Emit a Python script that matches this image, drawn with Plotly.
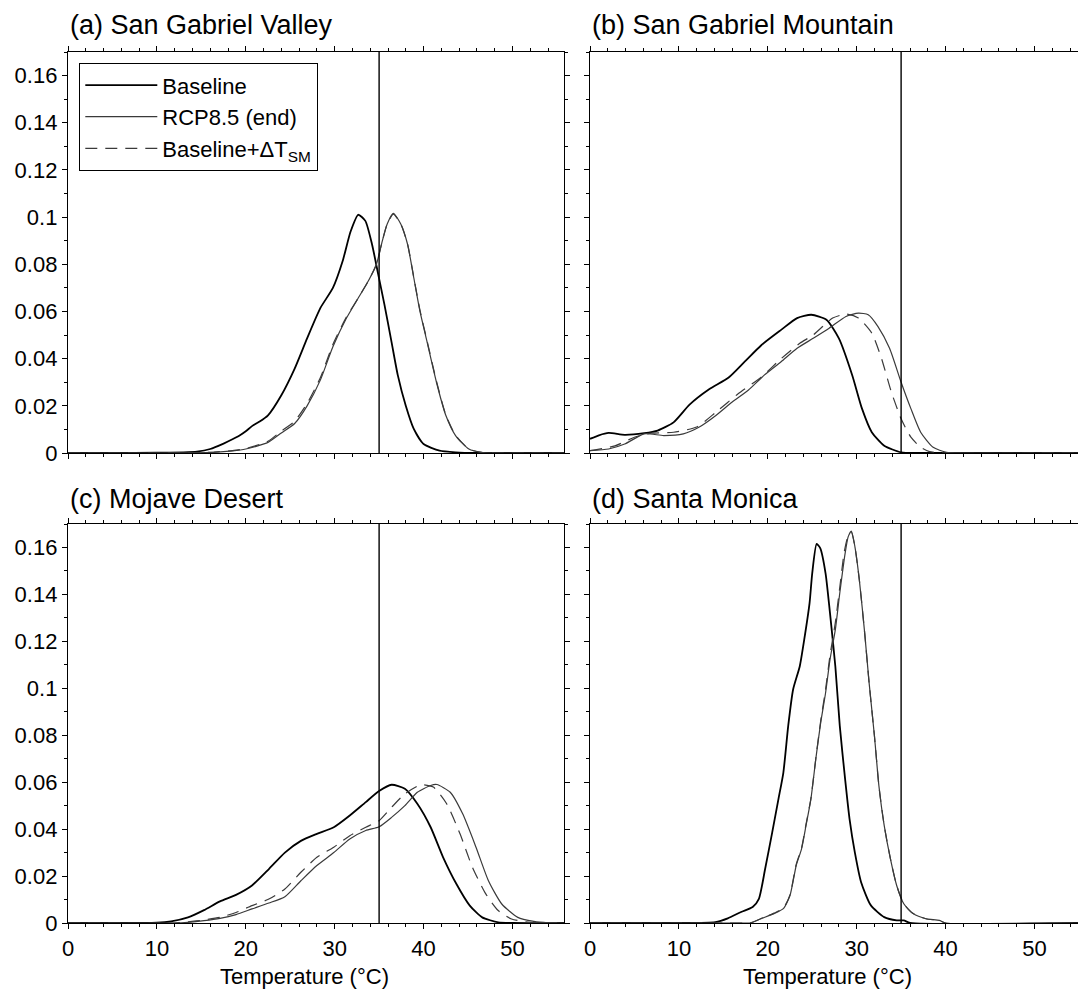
import plotly.graph_objects as go
from plotly.subplots import make_subplots

# ---------------- data ----------------
# (a) San Gabriel Valley
a_base_T = [0, 5, 10, 13, 14.5, 16, 17.5, 18.5, 19.3, 20, 20.7, 21.5, 22.5, 24, 25.5, 26.9, 28.4, 29.8, 30.9, 31.8, 32.65, 33.45, 34.2, 34.9, 35.6, 36.4, 37.1, 38.0, 38.9, 40, 41.8, 43.6, 46, 55.8]
a_base_v = [0, 0, 0.0001, 0.0003, 0.0006, 0.0017, 0.004, 0.0058, 0.0074, 0.0092, 0.0114, 0.0132, 0.016, 0.0245, 0.0358, 0.0486, 0.0615, 0.070, 0.0814, 0.094, 0.101, 0.0984, 0.0885, 0.0757, 0.0629, 0.047, 0.033, 0.020, 0.0102, 0.0038, 0.001, 0.0003, 0, 0]
a_rcp_T = [0, 10, 14, 16.4, 18.5, 20, 22.5, 24, 25.5, 26.9, 28.4, 29.8, 31.3, 32.7, 33.8, 34.7, 35.3, 35.9, 36.6, 37.45, 38.2, 38.9, 39.6, 40.4, 41.45, 42.5, 43.6, 45.1, 46.5, 48, 55.8]
a_rcp_v = [0, 0, 0.0001, 0.0003, 0.0009, 0.0017, 0.0045, 0.0085, 0.0125, 0.020, 0.031, 0.045, 0.057, 0.066, 0.073, 0.080, 0.089, 0.097, 0.1016, 0.097, 0.0885, 0.0743, 0.060, 0.047, 0.030, 0.016, 0.0074, 0.0017, 0.0003, 0, 0]
a_dsh_T = [0, 10, 14, 16.4, 18.5, 20, 22.5, 24, 25.5, 26.9, 28.4, 29.8, 31.3, 32.7, 33.8, 34.7, 35.3, 35.9, 36.6, 37.45, 38.2, 38.9, 39.6, 40.4, 41.45, 42.5, 43.6, 45.1, 46.5, 48, 55.8]
a_dsh_v = [0, 0, 0.0001, 0.0004, 0.001, 0.0019, 0.005, 0.0093, 0.0135, 0.021, 0.032, 0.046, 0.0575, 0.066, 0.073, 0.080, 0.089, 0.097, 0.1013, 0.097, 0.0885, 0.0745, 0.0605, 0.0475, 0.0305, 0.0162, 0.0075, 0.0017, 0.0003, 0, 0]

# (b) San Gabriel Mountain
b_base_T = [0, 1, 2.1, 3.9, 6.1, 7.6, 9.4, 11.2, 13.4, 15.6, 17.4, 19.3, 21.5, 23.3, 24.9, 26.6, 28, 29.5, 30.6, 31.7, 33.1, 35, 37, 54.9]
b_base_v = [0.006, 0.0075, 0.0085, 0.0077, 0.0084, 0.0095, 0.013, 0.0205, 0.027, 0.032, 0.0387, 0.0458, 0.0522, 0.0572, 0.0586, 0.0565, 0.0486, 0.033, 0.0188, 0.0088, 0.0031, 0.0003, 0, 0]
b_rcp_T = [0, 2.1, 3.9, 6.1, 8.3, 10.5, 12.3, 14.2, 16, 17.8, 19.6, 21.5, 23.3, 25.1, 26.9, 28.8, 30.2, 31.3, 32.4, 33.7, 35, 36.1, 37.2, 38.6, 40.1, 42, 54.9]
b_rcp_v = [0.001, 0.0017, 0.0038, 0.0081, 0.0074, 0.0081, 0.011, 0.016, 0.0216, 0.0266, 0.033, 0.0387, 0.0444, 0.0486, 0.0529, 0.0579, 0.0593, 0.0586, 0.0536, 0.0444, 0.030, 0.0188, 0.0088, 0.0024, 0.0003, 0, 0]
b_dsh_T = [0, 2.8, 5, 6.9, 9.4, 12, 14.2, 16.7, 19.3, 21.5, 23.6, 25.1, 27.3, 28.8, 30.2, 31.7, 32.8, 33.9, 35, 36.1, 37.2, 38.2, 40, 54.9]
b_dsh_v = [0.001, 0.003, 0.0067, 0.0084, 0.0088, 0.011, 0.0174, 0.0252, 0.0323, 0.040, 0.0465, 0.050, 0.0572, 0.0589, 0.0572, 0.0508, 0.040, 0.0259, 0.0145, 0.0067, 0.0024, 0.0006, 0, 0]

# (c) Mojave Desert
c_base_T = [0, 8, 10, 11.6, 13.5, 15.3, 17.1, 18.9, 20.7, 22.6, 24.4, 26.2, 28, 29.9, 31.7, 33.5, 35, 36.4, 37.9, 39.3, 40.8, 42.2, 43.7, 45.2, 46.6, 48.4, 50, 55.8]
c_base_v = [0, 0, 0.0001, 0.0007, 0.0024, 0.0055, 0.0092, 0.012, 0.016, 0.023, 0.030, 0.035, 0.038, 0.0408, 0.0458, 0.0515, 0.0562, 0.0589, 0.0572, 0.0508, 0.0408, 0.028, 0.0166, 0.0074, 0.0024, 0.0003, 0, 0]
c_rcp_T = [0, 12, 13.5, 15.3, 17.1, 18.9, 20.7, 22.6, 24.4, 26.2, 28, 29.9, 31.7, 33.5, 35, 36.4, 37.9, 39.3, 40.8, 41.5, 43, 44.4, 45.9, 47.3, 48.8, 50.6, 52.4, 54, 55.8]
c_rcp_v = [0, 0, 0.0003, 0.001, 0.002, 0.0036, 0.006, 0.0085, 0.0112, 0.018, 0.0245, 0.030, 0.0358, 0.0394, 0.041, 0.045, 0.050, 0.0557, 0.0586, 0.059, 0.0557, 0.0465, 0.0323, 0.018, 0.0081, 0.0024, 0.0007, 0.0001, 0]
c_dsh_T = [0, 12, 13.5, 15.3, 17.1, 18.9, 20.7, 22.6, 24.4, 26.2, 28, 29.9, 31.7, 33.5, 35, 36.4, 37.9, 39.7, 41.1, 42.6, 44.1, 45.5, 47, 48.4, 49.9, 52, 55.8]
c_dsh_v = [0, 0, 0.0005, 0.0013, 0.0024, 0.0045, 0.0074, 0.0102, 0.0145, 0.0216, 0.028, 0.0323, 0.0372, 0.0408, 0.0436, 0.0493, 0.055, 0.0589, 0.0579, 0.0508, 0.038, 0.0237, 0.0124, 0.0053, 0.0017, 0.0003, 0]

# (d) Santa Monica
d_base_T = [0, 10, 14.1, 15.5, 17, 18.3, 19, 19.7, 20.5, 21.2, 21.75, 22.3, 22.85, 23.6, 24.1, 24.7, 25, 25.5, 25.9, 26.5, 27, 27.6, 28.1, 28.7, 29.2, 29.8, 30.5, 31.6, 33.1, 34.5, 35.3, 36, 54.9]
d_base_v = [0, 0, 0.0004, 0.002, 0.0047, 0.0068, 0.0103, 0.023, 0.0386, 0.0528, 0.064, 0.084, 0.0995, 0.1094, 0.1207, 0.1363, 0.149, 0.1615, 0.1597, 0.149, 0.132, 0.1094, 0.084, 0.0613, 0.0443, 0.030, 0.0174, 0.0075, 0.0025, 0.0011, 0.0011, 0.0001, 0]
d_rcp_T = [0, 15, 18.1, 19.2, 20.7, 21.75, 22.5, 23.2, 23.8, 24.3, 24.85, 25.4, 25.95, 26.5, 27, 27.6, 28.1, 28.7, 29.05, 29.4, 29.8, 30.3, 30.9, 31.4, 32, 32.5, 33.1, 33.8, 34.5, 35.3, 36.35, 37.8, 39.3, 40, 54.9]
d_rcp_v = [0, 0, 0.0001, 0.0018, 0.004, 0.0061, 0.0117, 0.0245, 0.0316, 0.0415, 0.0528, 0.0698, 0.0853, 0.098, 0.1122, 0.125, 0.1406, 0.1575, 0.1646, 0.167, 0.1604, 0.1462, 0.1236, 0.1023, 0.0797, 0.0585, 0.0415, 0.0273, 0.016, 0.0082, 0.004, 0.0018, 0.0011, 0, 0]
d_dsh_T = [0, 15, 18.1, 19.2, 20.7, 21.75, 22.5, 23.2, 23.8, 24.3, 24.85, 25.4, 25.95, 26.5, 27, 27.6, 28.1, 28.6, 29.0, 29.4, 29.8, 30.3, 30.9, 31.4, 32, 32.5, 33.1, 33.8, 34.5, 35.3, 36.35, 37.8, 39.3, 40, 54.9]
d_dsh_v = [0, 0, 0.0001, 0.0018, 0.0042, 0.0063, 0.012, 0.025, 0.032, 0.042, 0.053, 0.070, 0.086, 0.0995, 0.114, 0.128, 0.143, 0.158, 0.1645, 0.1665, 0.1604, 0.1462, 0.1236, 0.1023, 0.0797, 0.0585, 0.0415, 0.0273, 0.016, 0.0082, 0.004, 0.0018, 0.0011, 0, 0]

panel_titles = ["(a) San Gabriel Valley", "(b) San Gabriel Mountain", "(c) Mojave Desert", "(d) Santa Monica"]
series_names = ["Baseline", "RCP8.5 (end)", "Baseline+ΔT<sub>SM</sub>"]
threshold_T = 35
y_tickvals = [0, 0.02, 0.04, 0.06, 0.08, 0.1, 0.12, 0.14, 0.16]
y_ticktext = ["0", "0.02", "0.04", "0.06", "0.08", "0.1", "0.12", "0.14", "0.16"]
x_tickvals = [0, 10, 20, 30, 40, 50]
x_title = "Temperature (°C)"

panels = [
    (a_base_T, a_base_v, a_rcp_T, a_rcp_v, a_dsh_T, a_dsh_v),
    (b_base_T, b_base_v, b_rcp_T, b_rcp_v, b_dsh_T, b_dsh_v),
    (c_base_T, c_base_v, c_rcp_T, c_rcp_v, c_dsh_T, c_dsh_v),
    (d_base_T, d_base_v, d_rcp_T, d_rcp_v, d_dsh_T, d_dsh_v),
]

# ---------------- figure ----------------
FONT = "Liberation Sans, Arial, Helvetica, sans-serif"
W, H = 1078, 990
ML, MR, MT, MB = 68, 0, 52, 67
pw = W - ML - MR
ph = H - MT - MB

fig = make_subplots(rows=2, cols=2)

xl_dom = [0, (564 - 68) / pw]
xr_dom = [(590 - 68) / pw, 1.0]
yt_dom = [(923 - 453) / ph, 1.0]
yb_dom = [0, (923 - 524) / ph]

styles = [
    dict(color="#000000", width=1.8),
    dict(color="#3a3a3a", width=1.2),
    dict(color="#3a3a3a", width=1.2, dash="12px,8px"),
]

for i, p in enumerate(panels):
    r, c = i // 2 + 1, i % 2 + 1
    for k in range(3):
        fig.add_trace(
            go.Scatter(
                x=p[2 * k], y=p[2 * k + 1], mode="lines",
                line=dict(shape="spline", smoothing=0.6, **styles[k]),
                name=series_names[k], legendgroup=series_names[k],
                showlegend=(i == 0), hoverinfo="skip",
            ),
            row=r, col=c,
        )

axis_common = dict(
    showline=True, linecolor="black", linewidth=1.3,
    ticks="outside", ticklen=5, tickwidth=1.2, tickcolor="black",
    showgrid=False, zeroline=False,
    tickfont=dict(family=FONT, size=22, color="black"),
)

for i in range(4):
    r, c = i // 2 + 1, i % 2 + 1
    xr = [0, 55.8] if c == 1 else [0, 54.9]
    fig.update_xaxes(
        range=xr, domain=xl_dom if c == 1 else xr_dom,
        tickvals=x_tickvals, showticklabels=(r == 2), mirror="ticks",
        minor=dict(ticks="outside", ticklen=3, dtick=2, tick0=0, tickcolor="black", showgrid=False),
        **axis_common, row=r, col=c,
    )
    fig.update_yaxes(
        range=[0, 0.17], domain=yt_dom if r == 1 else yb_dom,
        tickvals=y_tickvals, ticktext=y_ticktext, showticklabels=(c == 1),
        mirror="ticks" if c == 1 else False,
        minor=dict(ticks="outside", ticklen=3, dtick=0.01, tick0=0, tickcolor="black", showgrid=False),
        **axis_common, row=r, col=c,
    )
    xref = "x" if i == 0 else f"x{i+1}"
    yref = "y" if i == 0 else f"y{i+1}"
    fig.add_shape(type="line", x0=threshold_T, x1=threshold_T, y0=0, y1=1,
                  xref=xref, yref=f"{yref} domain",
                  line=dict(color="black", width=1.4))

# panel titles
title_pos = [(0, (923 - 25) / ph), ((590 - 68) / pw, (923 - 25) / ph),
             (0, (923 - 499) / ph), ((590 - 68) / pw, (923 - 499) / ph)]
for t, (px, py) in zip(panel_titles, title_pos):
    fig.add_annotation(text=t, x=px, y=py, xref="paper", yref="paper",
                       xanchor="left", yanchor="middle", showarrow=False,
                       font=dict(family=FONT, size=27, color="black"))

# x-axis titles
for px in [(304 - 68) / pw, (827 - 68) / pw]:
    fig.add_annotation(text=x_title, x=px, y=(923 - 977) / ph, xref="paper", yref="paper",
                       xanchor="center", yanchor="middle", showarrow=False,
                       font=dict(family=FONT, size=22, color="black"))

fig.update_layout(
    width=W, height=H,
    margin=dict(l=ML, r=MR, t=MT, b=MB),
    paper_bgcolor="white", plot_bgcolor="white",
    font=dict(family=FONT, color="black"),
    legend=dict(
        x=(79 - 68) / pw, y=(923 - 63) / ph, xanchor="left", yanchor="top",
        bordercolor="black", borderwidth=1.3, bgcolor="white",
        font=dict(family=FONT, size=22, color="black"),
        itemwidth=72, tracegroupgap=0,
    ),
)

fig.write_html("out.html")
